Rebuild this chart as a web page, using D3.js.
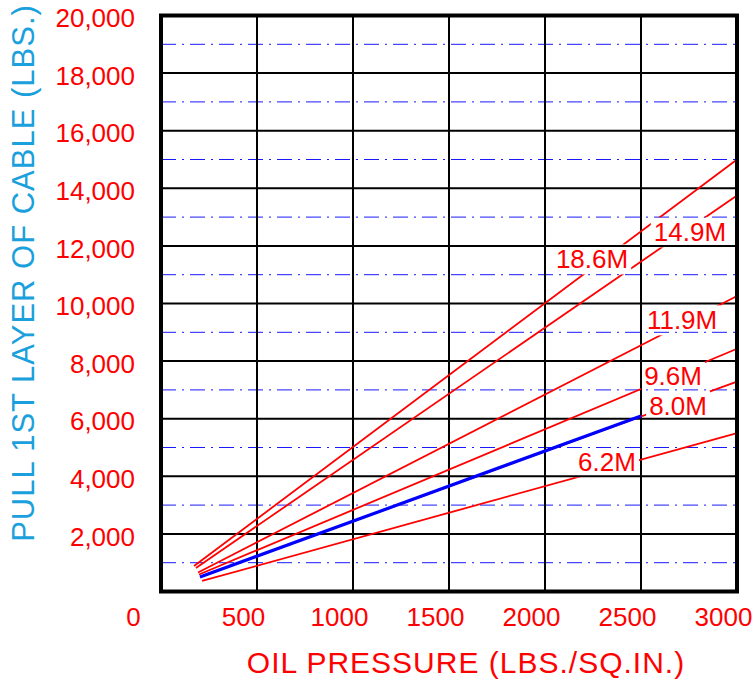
<!DOCTYPE html>
<html>
<head>
<meta charset="utf-8">
<script src="https://cdn.jsdelivr.net/npm/d3@7"></script>
<style>
body{margin:0;background:#fff;}
text{font-family:"Liberation Sans",Arial,sans-serif;}
</style>
</head>
<body>
<svg id="chart" width="753" height="680"></svg>
<script>
// axis ticks
let xTicks=[0,500,1000,1500,2000,2500,3000];
let yTicks=[2000,4000,6000,8000,10000,12000,14000,16000,18000,20000];
let yMinor=[1000,3000,5000,7000,9000,11000,13000,15000,17000,19000];

// cable lines (pressure psi -> pull lbs)
let names=["18.6M","14.9M","11.9M","9.6M","8.0M","6.2M"];
let startPsi=[172,182,193,198,203,214];
let startPull=[885,816,660,590,503,365];
let endPsi=[3000,3000,3000,3000,3000,3000];
let endPull=[15000,13750,10260,8430,7290,5500];
// blue part of the 8.0M line
let bluePsi=[203,2500];
let bluePull=[503,6094];
// where the labels sit
let labelPsi=[2245,2755,2714,2667,2693,2323];
let labelPull=[11545,12483,9427,7483,6458,4497];

let svg=d3.select('#chart');
let x=d3.scaleLinear().domain([0,3000]).range([161,737]);
let y=d3.scaleLinear().domain([0,20000]).range([591.5,15.5]);

// dash-dot blue grid
svg.append('g').selectAll('line')
    .data(yMinor)
    .enter()
    .append('line')
    .attr('x1',x(0)).attr('x2',x(3000))
    .attr('y1',d=>y(d)).attr('y2',d=>y(d))
    .attr('stroke','#1a1aff')
    .attr('stroke-width',1)
    .attr('stroke-dasharray','15,6,2,6');

// black grid
svg.append('g').selectAll('line')
    .data(yTicks)
    .enter()
    .append('line')
    .attr('x1',x(0)).attr('x2',x(3000))
    .attr('y1',d=>y(d)).attr('y2',d=>y(d))
    .attr('stroke','#000')
    .attr('stroke-width',2);
svg.append('g').selectAll('line')
    .data(xTicks.slice(1,-1))
    .enter()
    .append('line')
    .attr('y1',y(0)).attr('y2',y(20000))
    .attr('x1',d=>x(d)).attr('x2',d=>x(d))
    .attr('stroke','#000')
    .attr('stroke-width',2);

// labels first so the mask can use their boxes
let labels=svg.append('g').selectAll('text')
    .data(names)
    .enter()
    .append('text')
    .attr('x',(d,i)=>x(labelPsi[i]))
    .attr('y',(d,i)=>y(labelPull[i]))
    .attr('dy','0.36em')
    .attr('text-anchor','middle')
    .attr('font-size',26)
    .attr('fill','#ff0000')
    .text(d=>d);

let mask=svg.append('defs').append('mask').attr('id','gaps').attr('maskUnits','userSpaceOnUse')
    .attr('x',0).attr('y',0).attr('width',753).attr('height',680);
mask.append('rect').attr('width',753).attr('height',680).attr('fill','#fff');
labels.each(function(){
    let b=this.getBBox();
    mask.append('rect')
        .attr('x',b.x-3).attr('y',b.y)
        .attr('width',b.width+6).attr('height',b.height)
        .attr('fill','#000');
});

let lines=svg.insert('g','g:last-of-type').attr('mask','url(#gaps)');
lines.selectAll('line')
    .data(names)
    .enter()
    .append('line')
    .attr('x1',(d,i)=>x(startPsi[i]))
    .attr('y1',(d,i)=>y(startPull[i]))
    .attr('x2',(d,i)=>x(endPsi[i]))
    .attr('y2',(d,i)=>y(endPull[i]))
    .attr('stroke','#ff0000')
    .attr('stroke-width',1.8);
lines.append('line')
    .attr('x1',x(bluePsi[0])).attr('y1',y(bluePull[0]))
    .attr('x2',x(bluePsi[1])).attr('y2',y(bluePull[1]))
    .attr('stroke','#0000ff')
    .attr('stroke-width',3.2);

// frame
svg.append('rect')
    .attr('x',x(0)).attr('y',y(20000))
    .attr('width',x(3000)-x(0)).attr('height',y(0)-y(20000))
    .attr('fill','none')
    .attr('stroke','#000')
    .attr('stroke-width',4);

// tick labels
let yAxis=svg.append('g')
    .attr('transform','translate('+x(0)+',0)')
    .call(d3.axisLeft(y).tickValues(yTicks).tickSize(0).tickPadding(26).tickFormat(d3.format(',')));
let xAxis=svg.append('g')
    .attr('transform','translate(0,'+y(0)+')')
    .call(d3.axisBottom(x).tickValues(xTicks).tickSize(0).tickPadding(16).tickFormat(d=>d));
[yAxis,xAxis].forEach(a=>{
    a.select('.domain').remove();
    a.selectAll('text')
        .attr('font-size',26)
        .attr('font-family','"Liberation Sans",Arial,sans-serif')
        .attr('fill','#ff0000');
});
yAxis.selectAll('text').attr('dy','0.43em');
xAxis.selectAll('text').attr('dx',d=>d===0?-28:-14);

// titles
svg.append('text')
    .attr('x',466).attr('y',673)
    .attr('text-anchor','middle')
    .attr('font-size',30)
    .attr('letter-spacing',1)
    .attr('fill','#ff0000')
    .text('OIL PRESSURE (LBS./SQ.IN.)');
svg.append('text')
    .attr('transform','translate(34,273) rotate(-90)')
    .attr('text-anchor','middle')
    .attr('font-size',31)
    .attr('letter-spacing',1)
    .attr('fill','#1aa0dc')
    .text('PULL 1ST LAYER OF CABLE (LBS.)');
</script>
</body>
</html>
